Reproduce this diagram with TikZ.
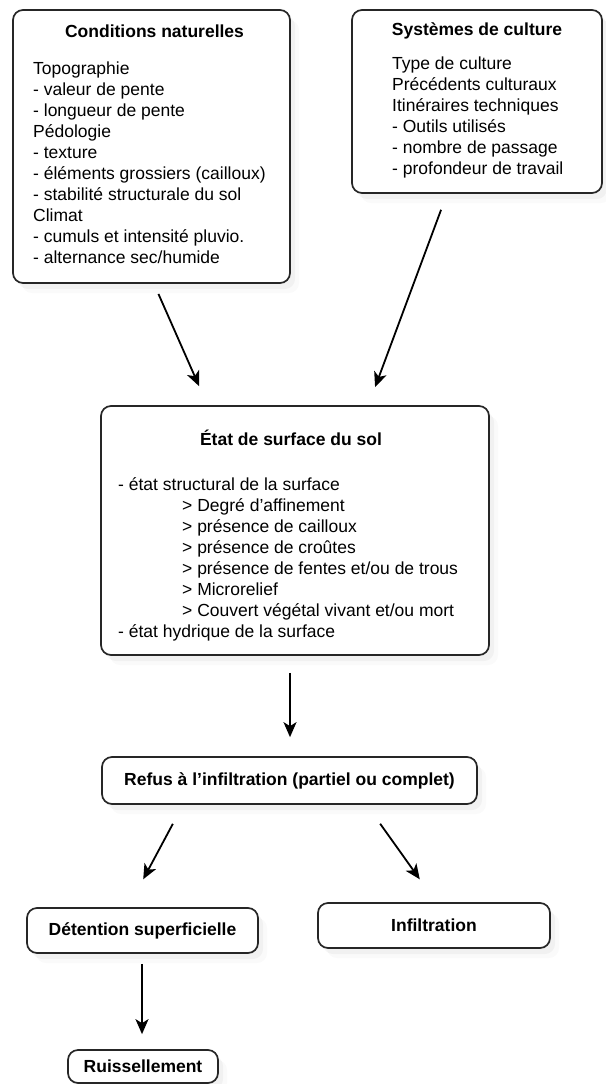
\documentclass[tikz,border=0pt]{standalone}
\usepackage{fontspec}
\setmainfont{Liberation Sans}
\usetikzlibrary{arrows.meta, shadows}

\begin{document}
\begin{tikzpicture}[x=1pt, y=-1pt,
    boite/.style={draw=black!85, line width=1.7pt, rounded corners=10pt, fill=white,
        inner sep=0pt,
        drop shadow={shadow xshift=5pt, shadow yshift=-6pt, opacity=.07},
        drop shadow={shadow xshift=9pt, shadow yshift=-10pt, opacity=.04}},
    titre/.style={font=\fontsize{17.5}{21}\selectfont\bfseries, inner sep=0pt},
    corps/.style={font=\fontsize{17.5}{21}\selectfont, align=left, inner sep=0pt, anchor=north west},
    fleche/.style={line width=1.8pt, -{Stealth[length=15pt, width=13pt, inset=4pt]}}]
    % Page
    \fill[white] (0,0) rectangle (605,1084);
    \useasboundingbox (0,0) rectangle (605,1084);

    % Conditions naturelles
    \node[boite, minimum width=277pt, minimum height=273pt] (natur) at (151.5,146.5) {};
    \node[titre] (naturtitre) at (154.5,31) {Conditions naturelles};
    \node[corps] (naturtexte) at (33,62) {Topographie\\- valeur de pente\\- longueur de pente\\P\'edologie\\- texture\\- \'el\'ements grossiers (cailloux)\\- stabilit\'e structurale du sol\\Climat\\- cumuls et intensit\'e pluvio.\\- alternance sec/humide};

    % Systemes de culture
    \node[boite, minimum width=250pt, minimum height=183pt] (syst) at (477,101.5) {};
    \node[titre] (systtitre) at (477,31) {Syst\`emes de culture};
    \node[corps] (systtexte) at (392,57) {Type de culture\\Pr\'ec\'edents culturaux\\Itin\'eraires techniques\\- Outils utilis\'es\\- nombre de passage\\- profondeur de travail};

    % Etat de surface du sol
    \node[boite, minimum width=388pt, minimum height=249pt] (etat) at (295,530.5) {};
    \node[titre] (etattitre) at (291,438) {\'Etat de surface du sol};
    \node[corps] (etattexte) at (118,477) {- \'etat structural de la surface\\
        \hspace*{64pt}> Degr\'e d’affinement\\
        \hspace*{64pt}> pr\'esence de cailloux\\
        \hspace*{64pt}> pr\'esence de cro\^utes\\
        \hspace*{64pt}> pr\'esence de fentes et/ou de trous\\
        \hspace*{64pt}> Microrelief\\
        \hspace*{64pt}> Couvert v\'eg\'etal vivant et/ou mort\\
        - \'etat hydrique de la surface};

    % Sorties
    \node[boite, titre, minimum width=375pt, minimum height=47pt] (refus) at (289.5,780.5) {Refus \`a l’infiltration (partiel ou complet)};
    \node[boite, titre, minimum width=231pt, minimum height=45pt] (deten) at (142.5,930.5) {D\'etention superficielle};
    \node[boite, titre, minimum width=232pt, minimum height=45pt] (infil) at (434,925.5) {Infiltration};
    \node[boite, titre, minimum width=150pt, minimum height=33pt] (ruiss) at (143,1066.5) {Ruissellement};

    % Fleches
    \draw[fleche, shorten <=11pt, shorten >=20.7pt] ([xshift=2.5pt]natur.south) -- ([xshift=-87.5pt]etat.north);
    \draw[fleche, shorten <=17pt, shorten >=19.2pt] ([xshift=-30pt]syst.south) -- ([xshift=73.4pt]etat.north);
    \draw[fleche, shorten <=17pt, shorten >=19pt] ([xshift=-5pt]etat.south) -- ([xshift=0.5pt]refus.north);
    \draw[fleche, shorten <=21.5pt, shorten >=31.6pt] ([xshift=-106.5pt]refus.south) -- ([xshift=-14.2pt]deten.north);
    \draw[fleche, shorten <=23.2pt, shorten >=28.1pt] ([xshift=77.2pt]refus.south) -- ([xshift=2.1pt]infil.north);
    \draw[fleche, shorten <=10pt, shorten >=15pt] ([xshift=-0.5pt]deten.south) -- ([xshift=-1pt]ruiss.north);
\end{tikzpicture}
\end{document}
